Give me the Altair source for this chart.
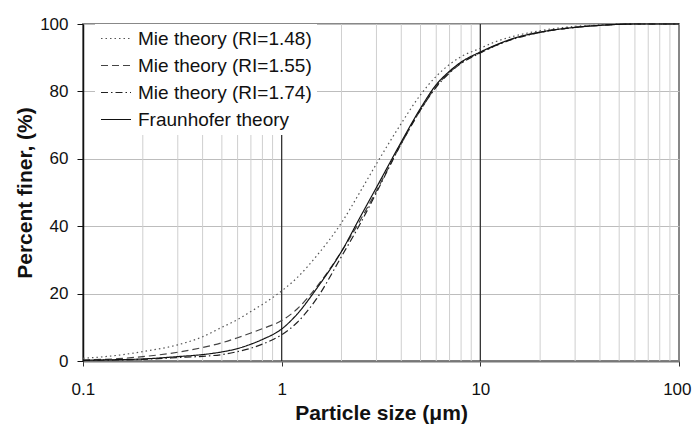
import altair as alt
import pandas as pd

# Particle size (um)
sizes = [0.1, 0.15, 0.2, 0.3, 0.4, 0.5, 0.6, 0.7, 0.8, 1.0, 1.2, 1.5, 2, 2.5, 3,
         4, 5, 6, 7, 8, 10, 12, 15, 20, 30, 40, 50, 60, 80, 100]
mie_148 = [0.8, 1.7, 2.8, 4.8, 7.2, 10, 12.3, 14.7, 16.8, 20.8, 24.8, 31.2, 41, 50.5, 58.5,
           70.5, 79, 84.5, 88, 90.3, 92.8, 94.8, 96.5, 98, 99.3, 99.7, 99.9, 100, 100, 100]
mie_155 = [0.3, 0.7, 1.3, 2.6, 4, 5.4, 6.9, 8.3, 9.6, 12, 15.5, 22, 32.5, 42, 50.5,
           64.5, 74.5, 81.5, 85.7, 88.4, 91.5, 93.7, 95.8, 97.5, 99, 99.6, 99.9, 100, 100, 100]
mie_174 = [0.2, 0.3, 0.5, 1.0, 1.4, 1.9, 2.8, 3.8, 5.0, 7.8, 11.5, 18.5, 31, 41, 50,
           64.5, 74.5, 81.3, 85.5, 88.3, 91.4, 93.6, 95.7, 97.5, 99, 99.6, 99.9, 100, 100, 100]
fraunhofer = [0.2, 0.4, 0.6, 1.3, 1.9, 2.7, 3.7, 5.0, 6.4, 9.5, 14, 21.5, 32.5, 43, 51.5,
              65, 75, 82, 86, 88.7, 91.7, 93.8, 95.9, 97.6, 99, 99.6, 99.9, 100, 100, 100]

series_names = ["Mie theory (RI=1.48)", "Mie theory (RI=1.55)",
                "Mie theory (RI=1.74)", "Fraunhofer theory"]
series_values = [mie_148, mie_155, mie_174, fraunhofer]

x_labels = [0.1, 1, 10, 100]
y_ticks = [0, 20, 40, 60, 80, 100]
minor_grid = [0.2, 0.3, 0.4, 0.5, 0.6, 0.7, 0.8, 0.9,
              2, 3, 4, 5, 6, 7, 8, 9,
              20, 30, 40, 50, 60, 70, 80, 90]
major_grid = [1, 10]

rows = []
for name, vals in zip(series_names, series_values):
    for s, v in zip(sizes, vals):
        rows.append({"size": s, "pct": v, "series": name})
df = pd.DataFrame(rows)

FONT = "Liberation Sans"
xscale = alt.Scale(type="log", domain=[0.1, 100], nice=False)
yscale = alt.Scale(domain=[0, 100], nice=False)

x_axis = alt.Axis(values=x_labels, title="Particle size (μm)",
                  grid=False, labelExpr="datum.value < 1 ? '0.1' : format(datum.value, 'd')",
                  tickSize=5, tickColor="#333333",
                  domainColor="#777777", domainWidth=2,
                  labelFontSize=17, labelPadding=15, labelColor="#111111",
                  titleFontSize=21, titleFontWeight="bold", titlePadding=5,
                  titleColor="#111111", labelFlush=True, labelFlushOffset=12)
y_axis = alt.Axis(values=y_ticks, title="Percent finer, (%)",
                  grid=True, gridColor="#bdbdbd", gridWidth=1,
                  tickSize=6, tickColor="#111111",
                  domainColor="#111111", domainWidth=1.5,
                  labelFontSize=17, labelPadding=9, labelColor="#111111",
                  titleFontSize=21, titleFontWeight="bold", titlePadding=4,
                  titleColor="#111111")

minor = alt.Chart(pd.DataFrame({"size": minor_grid})).mark_rule(
    color="#cfcfcf", strokeWidth=1
).encode(x=alt.X("size:Q", scale=xscale, axis=x_axis))

major = alt.Chart(pd.DataFrame({"size": major_grid})).mark_rule(
    color="#333333", strokeWidth=1.3
).encode(x=alt.X("size:Q", scale=xscale, axis=x_axis))

lines = alt.Chart(df).mark_line(strokeWidth=1.2, interpolate="monotone").encode(
    x=alt.X("size:Q", scale=xscale, axis=x_axis),
    y=alt.Y("pct:Q", scale=yscale, axis=y_axis),
    strokeDash=alt.StrokeDash("series:N", sort=series_names,
                              scale=alt.Scale(domain=series_names,
                                              range=[[1.5, 3], [7, 4], [7, 3, 1.5, 3], [1, 0]]),
                              legend=alt.Legend(title=None)),
    color=alt.Color("series:N", sort=series_names,
                    scale=alt.Scale(domain=series_names,
                                    range=["#555555", "#444444", "#222222", "#111111"]),
                    legend=alt.Legend(title=None)),
)

chart = alt.layer(minor, major, lines).properties(
    width=596, height=337,
    autosize=alt.AutoSizeParams(type="none"),
    padding={"left": 83, "top": 24, "right": 13, "bottom": 68},
).configure(font=FONT, background="white").configure_view(
    stroke="#888888", strokeWidth=2
).configure_legend(
    orient="none", legendX=12, legendY=0,
    fillColor="white", padding=5,
    labelFontSize=19, labelFont=FONT, labelColor="#111111",
    symbolType="stroke", symbolSize=900, symbolStrokeWidth=1.2,
    rowPadding=7, clipHeight=19, labelOffset=6, labelLimit=400
)

chart.save("out.html", embed_options={"renderer": "svg", "actions": False})
